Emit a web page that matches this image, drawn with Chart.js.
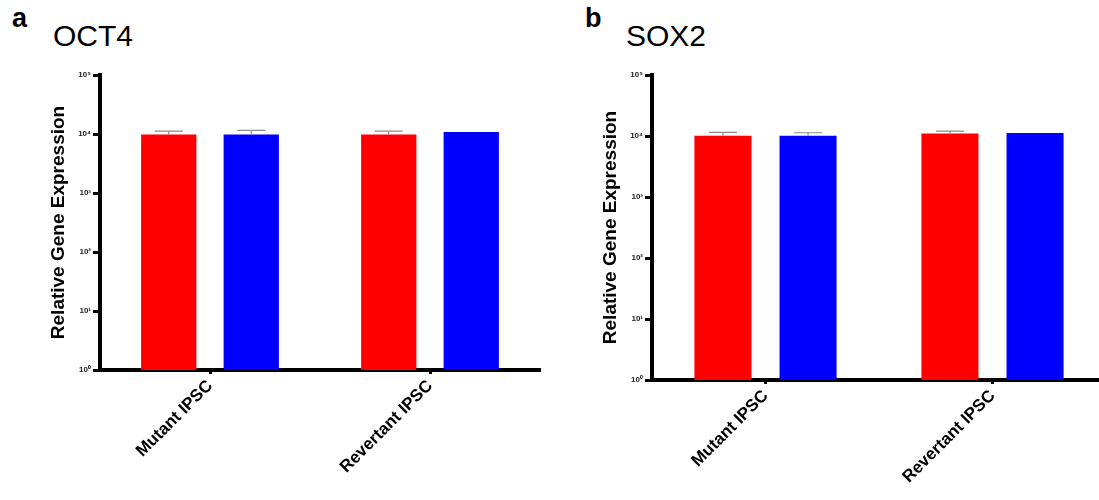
<!DOCTYPE html>
<html><head><meta charset="utf-8">
<script src="https://cdn.jsdelivr.net/npm/chart.js@4.4.1/dist/chart.umd.min.js"></script>
<style>
html,body{margin:0;padding:0;background:#fff;overflow:hidden;width:1099px;height:500px;position:relative;}
.panel{position:absolute;top:0;height:500px;}
.lab{position:absolute;font-family:'Liberation Sans',Arial,sans-serif;color:#000;line-height:1;white-space:nowrap;}
</style></head><body>
<div class="lab" style="left:12px;top:5px;font-size:27px;font-weight:bold;">a</div>
<div class="lab" style="left:53px;top:21px;font-size:30px;">OCT4</div>
<div class="lab" style="left:585px;top:5px;font-size:27px;font-weight:bold;">b</div>
<div class="lab" style="left:626px;top:21px;font-size:30px;">SOX2</div>
<div class="panel" style="left:0;width:550px;"><canvas id="c1" width="550" height="500"></canvas></div>
<div class="panel" style="left:552px;width:554px;"><canvas id="c2" width="554" height="500"></canvas></div>
<script>
const categories = ['Mutant IPSC', 'Revertant IPSC'];
const yTickValues = [1, 10, 100, 1000, 10000, 100000];
const yTickLabels = ['10\u2070', '10\u00B9', '10\u00B2', '10\u00B3', '10\u2074', '10\u2075'];
const yTitle = 'Relative Gene Expression';

// OCT4 panel
const oct4Red = [9800, 9800];
const oct4Blue = [9800, 10800];
const oct4RedErr = [1400, 1400];
const oct4BlueErr = [1700, 0];

// SOX2 panel
const sox2Red = [10100, 11000];
const sox2Blue = [10100, 11200];
const sox2RedErr = [1400, 1000];
const sox2BlueErr = [1200, 0];

const FONT = "'Liberation Sans', Arial, sans-serif";

const errorBars = {
  id: 'errorBars',
  afterDatasetsDraw(chart) {
    const ctx = chart.ctx, y = chart.scales.y;
    ctx.save();
    ctx.strokeStyle = '#8c8c8c';
    ctx.lineWidth = 1.2;
    chart.data.datasets.forEach((ds, di) => {
      const meta = chart.getDatasetMeta(di);
      meta.data.forEach((bar, i) => {
        const e = ds.errors[i];
        if (!e) return;
        const yTop = y.getPixelForValue(ds.data[i] + e);
        ctx.beginPath();
        ctx.moveTo(bar.x, bar.y);
        ctx.lineTo(bar.x, yTop);
        ctx.moveTo(bar.x - 14, yTop);
        ctx.lineTo(bar.x + 14, yTop);
        ctx.stroke();
      });
    });
    ctx.restore();
  }
};

function makeChart(id, red, blue, redErr, blueErr, cfg) {
  return new Chart(document.getElementById(id), {
    type: 'bar',
    data: {
      labels: categories,
      datasets: [
        { data: red, errors: redErr, backgroundColor: '#ff0000', borderWidth: 0, categoryPercentage: 0.75, barPercentage: 0.67 },
        { data: blue, errors: blueErr, backgroundColor: '#0000ff', borderWidth: 0, categoryPercentage: 0.75, barPercentage: 0.67 }
      ]
    },
    options: {
      responsive: false,
      animation: false,
      events: [],
      layout: { padding: { top: cfg.top, right: cfg.right, left: 0, bottom: 0 } },
      plugins: { legend: { display: false }, tooltip: { enabled: false } },
      scales: {
        x: {
          grid: { offset: false, drawOnChartArea: false, drawTicks: true, tickLength: 4, tickWidth: 3, color: '#000' },
          border: { width: 4, color: '#000' },
          ticks: { minRotation: 45, maxRotation: 45, color: '#000', padding: 2, font: { family: FONT, size: 17, weight: 'bold' } },
          afterFit: s => { s.height = cfg.xh; }
        },
        y: {
          type: 'logarithmic',
          min: 1, max: 100000,
          afterBuildTicks: s => { s.ticks = yTickValues.map(v => ({ value: v })); },
          ticks: {
            autoSkip: false,
            color: '#222',
            padding: 2,
            font: { family: FONT, size: 8, weight: 'bold' },
            callback: (v) => yTickLabels[yTickValues.indexOf(v)]
          },
          grid: { drawOnChartArea: false, drawTicks: true, tickLength: 7, tickWidth: 3, color: '#000' },
          border: { width: 4, color: '#000' },
          title: { display: true, text: yTitle, color: '#000', font: { family: FONT, size: 19, weight: 'bold' }, padding: { top: 47, bottom: 0 } },
          afterFit: s => { s.width = 100; }
        }
      }
    },
    plugins: [errorBars]
  });
}

makeChart('c1', oct4Red, oct4Blue, oct4RedErr, oct4BlueErr, { top: 75, right: 10, xh: 130 });
makeChart('c2', sox2Red, sox2Blue, sox2RedErr, sox2BlueErr, { top: 75, right: 0, xh: 120 });
</script>
</body></html>
